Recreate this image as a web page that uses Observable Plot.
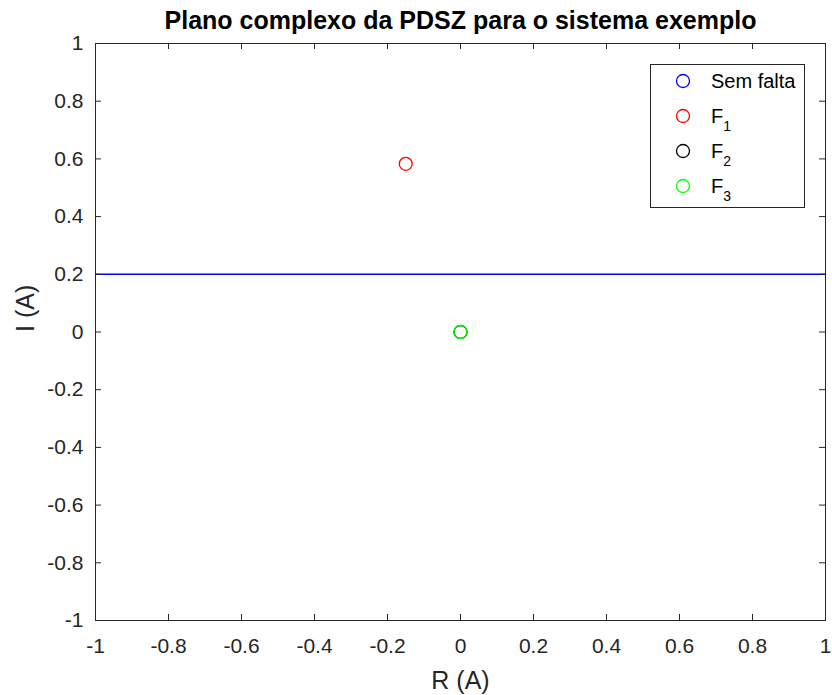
<!DOCTYPE html>
<html><head><meta charset="utf-8">
<script src="https://cdn.jsdelivr.net/npm/d3@7"></script>
<script src="https://cdn.jsdelivr.net/npm/@observablehq/plot@0.6"></script>
<style>
body{margin:0;background:#fff;font-family:"Liberation Sans",Arial,sans-serif}
#wrap{position:relative;width:832px;height:695px}
#legend{position:absolute;left:0;top:0}
</style>
</head><body><div id="wrap"></div>
<script>
const titleText = "Plano complexo da PDSZ para o sistema exemplo";
const xLabel = "R (A)";
const yLabel = "I (A)";
const xTicks = [-1, -0.8, -0.6, -0.4, -0.2, 0, 0.2, 0.4, 0.6, 0.8, 1];
const yTicks = [-1, -0.8, -0.6, -0.4, -0.2, 0, 0.2, 0.4, 0.6, 0.8, 1];
const legendMain = ["Sem falta", "F", "F", "F"];
const legendSub = ["", "1", "2", "3"];
const seriesColors = ["#0000ff", "#ff0000", "#000000", "#00ff00"];
// Sem falta (line across the plane)
const semFaltaR = [-1, 1];
const semFaltaI = [0.2, 0.2];
// Faults F1, F2, F3
const faultR = [-0.15, 0, 0];
const faultI = [0.583, 0, 0];

const W = 832, H = 695, mL = 95, mR = 7, mT = 43, mB = 75;
const plotH = H - mT - mB, plotW = W - mL - mR;
const ink = "#262626";
const font = "'Liberation Sans', Arial, sans-serif";
const tickLen = 6;

const semFalta = semFaltaR.map((r, i) => ({r, i: semFaltaI[i]}));
const faults = faultR.map((r, k) => ({r, i: faultI[k], k}));

const chart = Plot.plot({
  width: W, height: H,
  marginLeft: mL, marginRight: mR, marginTop: mT, marginBottom: mB,
  style: {fontFamily: font, background: "white", overflow: "visible"},
  x: {domain: [-1, 1]},
  y: {domain: [-1, 1]},
  marks: [
    Plot.line(semFalta, {x: "r", y: "i", stroke: seriesColors[0], strokeWidth: 1.5}),
    Plot.dot(faults.filter(d => d.k === 0), {x: "r", y: "i", r: 6.5, stroke: seriesColors[1], fill: "none", strokeWidth: 1.3}),
    Plot.dot(faults.filter(d => d.k === 1), {x: "r", y: "i", r: 6.5, stroke: seriesColors[2], fill: "none", strokeWidth: 1.3}),
    Plot.dot(faults.filter(d => d.k === 2), {x: "r", y: "i", r: 6.5, stroke: seriesColors[3], fill: "none", strokeWidth: 1.3}),
    Plot.ruleX(xTicks, {x: d => d, insetTop: plotH - tickLen, stroke: ink}),
    Plot.ruleX(xTicks, {x: d => d, insetBottom: plotH - tickLen, stroke: ink}),
    Plot.ruleY(yTicks, {y: d => d, insetRight: plotW - tickLen, stroke: ink}),
    Plot.ruleY(yTicks, {y: d => d, insetLeft: plotW - tickLen, stroke: ink}),
    Plot.frame({stroke: ink}),
    Plot.axisX({ticks: xTicks, tickSize: 0, tickPadding: 18, tickFormat: d => String(d), fontSize: 21, color: ink, label: null}),
    Plot.axisY({ticks: yTicks, tickSize: 0, tickPadding: 12, tickFormat: d => String(d), fontSize: 21, color: ink, label: null}),
    Plot.text([titleText], {frameAnchor: "top", dy: -15, lineAnchor: "bottom", fontSize: 25, fontWeight: "bold", fill: "#000"}),
    Plot.text([xLabel], {frameAnchor: "bottom", dy: 68, lineAnchor: "bottom", fontSize: 25, fill: ink}),
    Plot.text([yLabel], {frameAnchor: "left", dx: -70, rotate: -90, lineAnchor: "middle", fontSize: 25, fill: ink})
  ]
});
const wrap = document.getElementById("wrap");
wrap.appendChild(chart);

// Legend
const lg = d3.select(wrap).append("svg").attr("id", "legend").attr("width", W).attr("height", H)
  .style("pointer-events", "none").style("font-family", font);
lg.append("rect").attr("x", 650.5).attr("y", 64.5).attr("width", 154).attr("height", 143)
  .attr("fill", "white").attr("stroke", ink);
legendMain.forEach((t, k) => {
  const cy = 81 + k * 35;
  lg.append("circle").attr("cx", 683).attr("cy", cy).attr("r", 6.5)
    .attr("fill", "none").attr("stroke", seriesColors[k]).attr("stroke-width", 1.3);
  const tx = lg.append("text").attr("x", 711).attr("y", cy + 7).attr("font-size", 20).attr("fill", "#000").text(t);
  if (legendSub[k]) {
    tx.append("tspan").attr("dy", 8).attr("font-size", 14).text(legendSub[k]);
  }
});
</script>
</body></html>
